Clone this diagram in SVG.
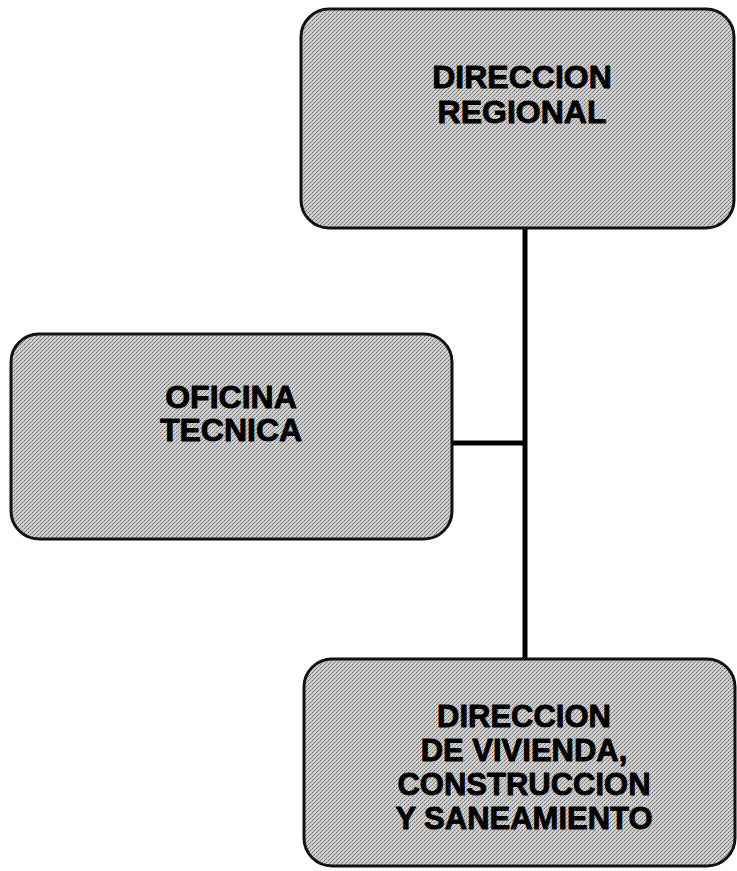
<svg xmlns="http://www.w3.org/2000/svg" width="737" height="871" viewBox="0 0 737 871">
<defs>
<pattern id="dither" width="4" height="4" patternUnits="userSpaceOnUse">
<rect width="4" height="4" fill="#cdcdcd"/>
<rect x="0" y="0" width="1" height="1" fill="#6a6a6a"/>
<rect x="2" y="2" width="1" height="1" fill="#6a6a6a"/>
<rect x="1" y="3" width="1" height="1" fill="#8a8a8a"/>
<rect x="3" y="1" width="1" height="1" fill="#9a9a9a"/>
</pattern>
</defs>
<style>
.box{fill:url(#dither);stroke:#111;stroke-width:3}
.lbl{font-family:"Liberation Sans",Arial,sans-serif;font-weight:bold;font-size:32px;fill:#000;text-anchor:middle;stroke:#000;stroke-width:0.9;stroke-linejoin:round}
.sm{font-size:31px}
.conn{stroke:#000;stroke-width:5;fill:none}
</style>
<rect width="737" height="871" fill="#fff"/>
<g id="connectors">
<line class="conn" x1="525" y1="228" x2="525" y2="660"/>
<line class="conn" x1="452" y1="443" x2="525" y2="443"/>
</g>
<g id="direccion-regional">
<rect class="box" x="301" y="9" width="433" height="219" rx="28"/>
<text class="lbl" x="522" y="88">DIRECCION</text>
<text class="lbl" x="522" y="123">REGIONAL</text>
</g>
<g id="oficina-tecnica">
<rect class="box" x="11" y="334" width="441" height="205" rx="28"/>
<text class="lbl" x="231" y="408">OFICINA</text>
<text class="lbl" x="231" y="441">TECNICA</text>
</g>
<g id="direccion-vivienda">
<rect class="box" x="304" y="659" width="431" height="207" rx="28"/>
<text class="lbl sm" x="524" y="727">DIRECCION</text>
<text class="lbl sm" x="524" y="761">DE VIVIENDA,</text>
<text class="lbl sm" x="524" y="795">CONSTRUCCION</text>
<text class="lbl sm" x="524" y="829">Y SANEAMIENTO</text>
</g>
</svg>
